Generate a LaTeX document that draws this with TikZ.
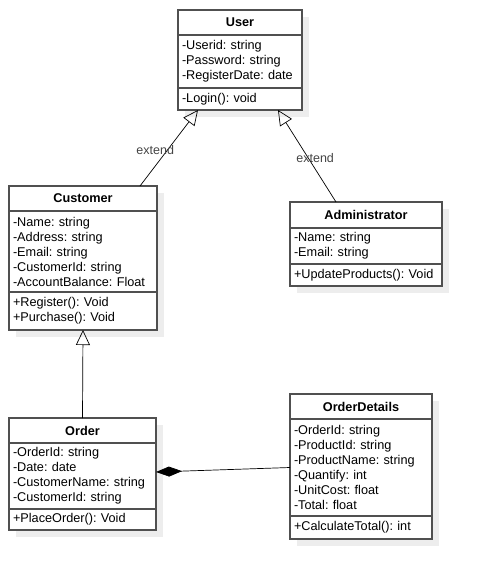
\documentclass[tikz,border=0pt]{standalone}
\usepackage{fontspec}
\setmainfont{Liberation Sans}
\usetikzlibrary{positioning,arrows.meta,shadows}
\frenchspacing

\definecolor{boxline}{HTML}{505050}
\definecolor{shadowgray}{HTML}{EDEDED}
\definecolor{labelgray}{HTML}{444444}

\tikzset{
	classpart/.style = {draw = boxline, line width = 1.2pt, fill = white, outer sep = 0pt,
		inner ysep = 0pt, font = \fontsize{12.7}{15}\selectfont,
		drop shadow = {shadow xshift = 7pt, shadow yshift = -7pt, fill = shadowgray, opacity = 1}},
	classname/.style = {classpart, anchor = north west, font = \fontsize{12.7}{15}\selectfont\bfseries},
	members/.style = {classpart, inner xsep = 4pt, align = left},
	extends/.style = {draw, line width = .7pt, -{Triangle[open, length = 15pt, width = 14pt]}},
	extendlabel/.style = {text = labelgray, font = \fontsize{12.5}{15}\selectfont}
}

\begin{document}
\begin{tikzpicture}[x = 1pt, y = -1pt]
	\useasboundingbox (0,0) rectangle (481,579);

	% User
	\node [classname, minimum width = 124pt, minimum height = 25pt] (user) at (178,10) {User};
	\node [members, text width = 116pt, minimum height = 53pt, below = 0pt of user] (user-attr)
		{-Userid: string\\-Password: string\\-RegisterDate: date};
	\node [members, text width = 116pt, minimum height = 22pt, below = 0pt of user-attr] (user-ops)
		{-Login(): void};

	% Customer
	\node [classname, minimum width = 148pt, minimum height = 25pt] (customer) at (9,186) {Customer};
	\node [members, text width = 140pt, minimum height = 81pt, below = 0pt of customer] (customer-attr)
		{-Name: string\\-Address: string\\-Email: string\\-CustomerId: string\\-AccountBalance: Float};
	\node [members, text width = 140pt, minimum height = 38pt, below = 0pt of customer-attr] (customer-ops)
		{+Register(): Void\\+Purchase(): Void};

	% Administrator
	\node [classname, minimum width = 152pt, minimum height = 26pt] (admin) at (290,202) {Administrator};
	\node [members, text width = 144pt, minimum height = 36pt, below = 0pt of admin] (admin-attr)
		{-Name: string\\-Email: string};
	\node [members, text width = 144pt, minimum height = 22pt, below = 0pt of admin-attr] (admin-ops)
		{+UpdateProducts(): Void};

	% Order
	\node [classname, minimum width = 147pt, minimum height = 25pt] (order) at (9,418) {Order};
	\node [members, text width = 139pt, minimum height = 66pt, below = 0pt of order] (order-attr)
		{-OrderId: string\\-Date: date\\-CustomerName: string\\-CustomerId: string};
	\node [members, text width = 139pt, minimum height = 21pt, below = 0pt of order-attr] (order-ops)
		{+PlaceOrder(): Void};

	% OrderDetails
	\node [classname, minimum width = 142pt, minimum height = 25pt] (details) at (290,394) {OrderDetails};
	\node [members, text width = 134pt, minimum height = 97pt, below = 0pt of details] (details-attr)
		{-OrderId: string\\-ProductId: string\\-ProductName: string\\-Quantify: int\\-UnitCost: float\\-Total: float};
	\node [members, text width = 134pt, minimum height = 23pt, below = 0pt of details-attr] (details-ops)
		{+CalculateTotal(): int};

	% relations
	\draw [extends] ([xshift = 57pt]customer.north) -- ([xshift = -42pt]user-ops.south)
		node [extendlabel, pos = .47, xshift = -12pt] {extend};
	\draw [extends] ([xshift = -30pt]admin.north) -- ([xshift = 38pt]user-ops.south)
		node [extendlabel, pos = .48, xshift = 7pt] {extend};
	\draw [extends] (order.north) -- (customer-ops.south);
	\draw [line width = .7pt, {Diamond[length = 26pt, width = 10pt]}-] ([yshift = 4pt]order-attr.east) -- (details-attr.west);
\end{tikzpicture}
\end{document}
